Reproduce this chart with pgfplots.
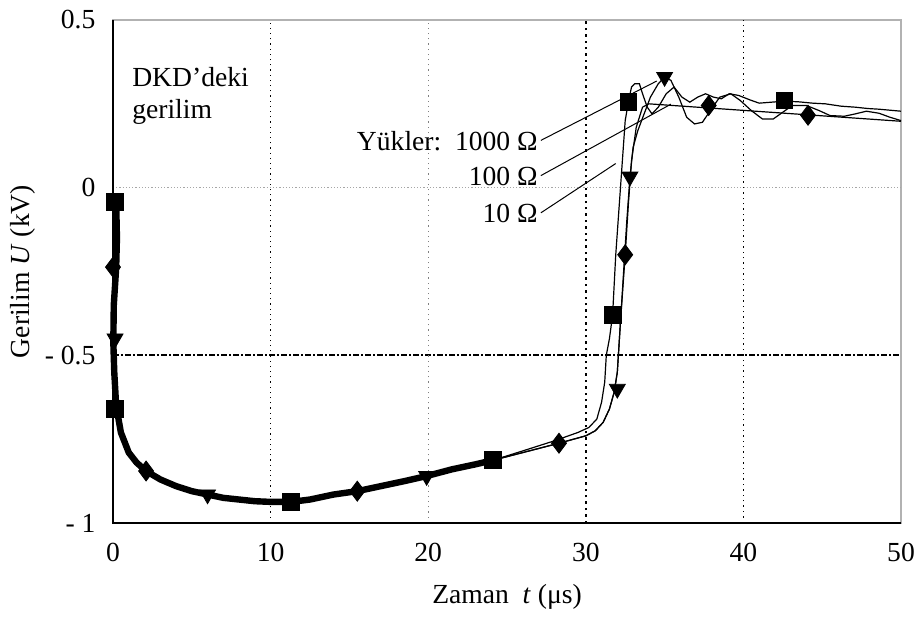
\documentclass[border=0pt]{standalone}
\usepackage{fontspec}
\setmainfont{Liberation Serif}
\usepackage{pgfplots}
\pgfplotsset{compat=1.18}

\begin{document}
\fontsize{13.8}{15.8}\selectfont
\begin{tikzpicture}
\useasboundingbox (-56.5pt,-46.5pt) rectangle (405.5pt,261.5pt);
\begin{axis}[
 at={(0pt,0pt)}, anchor=south west,
 scale only axis, width=394pt, height=251.5pt,
 xmin=0, xmax=50, ymin=-1, ymax=0.5,
 xtick={0,10,20,30,40,50}, xticklabels={0,10,20,30,40,50},
 ytick={-1,-0.5,0,0.5}, yticklabels={- 1,- 0.5,0,0.5},
 major tick length=0pt,
 xticklabel style={yshift=-5.5pt},
 yticklabel style={xshift=-4pt},
 axis line style={draw=gray!60, line width=0.6pt},
 xlabel={Zaman\ \ \textit{t} (μs)},
 ylabel={Gerilim \textit{U} (kV)},
 xlabel style={at={(axis description cs:0.5,-0.147)},anchor=center},
 ylabel style={at={(axis description cs:-0.115,0.5)},anchor=center},
 clip=false,
]
% grid lines
\draw[gray!70, densely dotted, line width=0.6pt] (axis cs:0,0) -- (axis cs:50,0);
\draw[black, dash pattern=on 3pt off 1pt on 1pt off 1pt, line width=0.9pt] (axis cs:0,-0.5) -- (axis cs:50,-0.5);
\draw[black, dotted, line width=0.6pt] (axis cs:10,-1) -- (axis cs:10,0.5);
\draw[gray, dotted, line width=0.6pt] (axis cs:20,-1) -- (axis cs:20,0.5);
\draw[black, dotted, line width=1.2pt] (axis cs:30,-1) -- (axis cs:30,0.5);
\draw[black, dotted, line width=0.7pt] (axis cs:40,-1) -- (axis cs:40,0.5);
% black left and bottom axis lines
\draw[black, line width=0.7pt] (rel axis cs:0,1) -- (rel axis cs:0,0) -- (rel axis cs:1,0);

% 1000 Ohm
\addplot[black, line width=0.6pt, no marks] coordinates {
(0.1,-0.03) (0.2,-0.04) (0.25,-0.15) (0.2,-0.24) (0.05,-0.35) (0.02,-0.46) (0.08,-0.55) (0.2,-0.65)
(0.5,-0.73) (1.0,-0.79) (1.5,-0.82) (2.1,-0.845) (3,-0.87) (4,-0.89) (5,-0.905) (6,-0.915)
(7,-0.925) (8,-0.93) (9,-0.935) (10,-0.937) (11.3,-0.937) (12.5,-0.93) (14,-0.915) (15.5,-0.905)
(17,-0.89) (18.5,-0.875) (19.9,-0.86) (21.5,-0.84) (23,-0.825) (24.1,-0.813)
(26,-0.785) (28,-0.755) (29.5,-0.73) (30.2,-0.715) (30.7,-0.69) (31.0,-0.64) (31.2,-0.58)
(31.3,-0.5) (31.5,-0.45) (31.7,-0.38) (31.9,-0.2) (32.2,0.0) (32.5,0.2) (32.7,0.255) (32.9,0.3)
(33.1,0.31) (33.4,0.31) (33.6,0.28) (33.9,0.24) (34.2,0.22) (34.6,0.24) (35.1,0.28) (35.6,0.30)
(36.1,0.27) (36.6,0.255) (37.1,0.27) (37.6,0.28) (38.1,0.27) (38.6,0.265) (39.1,0.28) (39.7,0.275)
(40.4,0.262) (41.0,0.252) (41.8,0.255) (42.6,0.258) (43.5,0.256) (44.4,0.252) (45.2,0.25)
(46.2,0.243) (47.1,0.24) (47.9,0.236) (48.6,0.234) (49.3,0.231) (50,0.228)
};
% 100 Ohm
\addplot[black, line width=0.6pt, no marks] coordinates {
(0.1,-0.03) (0.2,-0.04) (0.25,-0.15) (0.2,-0.24) (0.05,-0.35) (0.02,-0.46) (0.08,-0.55) (0.2,-0.65)
(0.5,-0.73) (1.0,-0.79) (1.5,-0.82) (2.1,-0.845) (3,-0.87) (4,-0.89) (5,-0.905) (6,-0.915)
(7,-0.925) (8,-0.93) (9,-0.935) (10,-0.937) (11.3,-0.937) (12.5,-0.93) (14,-0.915) (15.5,-0.905)
(17,-0.89) (18.5,-0.875) (19.9,-0.86) (21.5,-0.84) (23,-0.825) (24.1,-0.813)
(26,-0.79) (28.3,-0.762) (30,-0.74) (30.6,-0.725) (31.1,-0.70) (31.5,-0.66) (31.8,-0.61)
(32.0,-0.55) (32.2,-0.4) (32.5,-0.2) (32.7,-0.05) (32.9,0.08) (33.2,0.18) (33.6,0.24)
(34.0,0.25) (50,0.198)
};
% 10 Ohm
\addplot[black, line width=0.6pt, no marks] coordinates {
(0.1,-0.03) (0.2,-0.04) (0.25,-0.15) (0.2,-0.24) (0.05,-0.35) (0.02,-0.46) (0.08,-0.55) (0.2,-0.65)
(0.5,-0.73) (1.0,-0.79) (1.5,-0.82) (2.1,-0.845) (3,-0.87) (4,-0.89) (5,-0.905) (6,-0.915)
(7,-0.925) (8,-0.93) (9,-0.935) (10,-0.937) (11.3,-0.937) (12.5,-0.93) (14,-0.915) (15.5,-0.905)
(17,-0.89) (18.5,-0.875) (19.9,-0.86) (21.5,-0.84) (23,-0.825) (24.1,-0.813)
(26,-0.79) (28.3,-0.762) (30,-0.74) (30.6,-0.725) (31.1,-0.70) (31.5,-0.66) (31.8,-0.61)
(32.0,-0.55) (32.2,-0.4) (32.4,-0.25) (32.6,-0.1) (32.8,0.03) (33.0,0.12) (33.3,0.17)
(33.7,0.22) (34.1,0.27) (34.6,0.31) (35.0,0.33) (35.4,0.32) (35.9,0.27) (36.4,0.21) (36.9,0.19)
(37.4,0.195) (37.9,0.23) (38.5,0.27) (39.2,0.28) (39.8,0.26) (40.5,0.23) (41.2,0.205) (41.9,0.205)
(42.5,0.225) (43.1,0.245) (44.0,0.245) (44.8,0.23) (45.5,0.215) (46.4,0.213) (47.1,0.22)
(47.8,0.228) (48.6,0.222) (49.3,0.21) (50,0.2)
};
% overlapping common part (thick)
\addplot[black, line width=3.2pt, no marks, line join=round] coordinates {
(0.1,-0.03) (0.2,-0.04) (0.25,-0.15) (0.2,-0.24) (0.05,-0.35) (0.02,-0.46) (0.08,-0.55) (0.2,-0.65)
(0.5,-0.73) (1.0,-0.79) (1.5,-0.82) (2.1,-0.845) (3,-0.87) (4,-0.89) (5,-0.905) (6,-0.915)
(7,-0.925) (8,-0.93) (9,-0.935) (10,-0.937) (11.3,-0.937) (12.5,-0.93) (14,-0.915) (15.5,-0.905)
(17,-0.89) (18.5,-0.875) (19.9,-0.86) (21.5,-0.84) (23,-0.825) (24.1,-0.813)
};
% markers
\addplot[only marks, mark=square*, mark size=4.2pt, black] coordinates {
(0.13,-0.042) (0.13,-0.66) (11.3,-0.937) (24.1,-0.813) (31.7,-0.38) (32.7,0.255) (42.6,0.26)
};
\addplot[only marks, mark=diamond*, mark size=5pt, black] coordinates {
(0.0,-0.237) (2.1,-0.845) (15.5,-0.905) (28.3,-0.762) (32.5,-0.2) (37.8,0.245) (44.1,0.216)
};
\addplot[only marks, mark=triangle*, mark size=4.6pt, mark options={rotate=180}, black] coordinates {
(0.13,-0.45) (6.0,-0.915) (19.9,-0.86) (32.0,-0.60) (32.8,0.033) (35.0,0.33)
};

% annotations
\node[anchor=north west, align=left, inner sep=0pt] at (axis cs:1.2,0.36) {DKD’deki\\gerilim};
\node[anchor=east, inner sep=1pt] at (axis cs:27.1,0.138) {Yükler:\enspace 1000 Ω};
\node[anchor=east, inner sep=1pt] at (axis cs:27.1,0.033) {100 Ω};
\node[anchor=east, inner sep=1pt] at (axis cs:27.1,-0.078) {10 Ω};
\draw[black, line width=0.5pt] (axis cs:27.15,0.141) -- (axis cs:34.5,0.318);
\draw[black, line width=0.5pt] (axis cs:27.15,0.036) -- (axis cs:35.4,0.249);
\draw[black, line width=0.5pt] (axis cs:27.15,-0.075) -- (axis cs:31.9,0.072);
\end{axis}
\end{tikzpicture}
\end{document}
